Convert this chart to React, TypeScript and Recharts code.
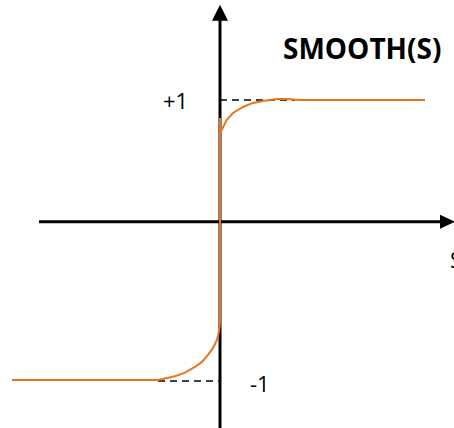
import React from "react";
import { LineChart, Line, XAxis, YAxis, ReferenceLine, ReferenceDot } from "recharts";

// S values (horizontal) and SMOOTH(S) values (vertical)
const S_VALUES = [
  -4.16, -1.24, -1.1, -0.9, -0.7, -0.5, -0.36, -0.24, -0.14, -0.08, -0.04, -0.01, 0,
  0, 0, 0.034, 0.134, 0.26, 0.46, 0.66, 0.86, 1.14, 1.34, 1.6, 4.1,
];
const SMOOTH_VALUES = [
  -1, -1, -0.989, -0.973, -0.948, -0.907, -0.871, -0.821, -0.771, -0.729, -0.686, -0.629, -0.586,
  0.871, 0.8, 0.786, 0.857, 0.907, 0.95, 0.979, 0.993, 1.007, 1.007, 1.0, 1.0,
];

const TITLE = "SMOOTH(S)";
const X_LABEL = "S";
const PLUS_ONE = "+1";
const MINUS_ONE = "-1";

// axis extents
const X_DOMAIN: [number, number] = [-4.4, 4.68];
const Y_DOMAIN: [number, number] = [-1.343, 1.714];
const H_AXIS_Y = 0.13;
const H_AXIS_FROM = -3.62;
const H_AXIS_TO = 4.4;
const V_AXIS_TOP = 1.57;

const data = S_VALUES.map((s, i) => ({ s, v: SMOOTH_VALUES[i] }));

const ORANGE = "#E8761E";
const FONT = "'Open Sans', sans-serif";

const UpArrow = (p: any) => (
  <path d={`M${p.cx},${p.cy} L${p.cx - 8},${p.cy + 16} L${p.cx + 8},${p.cy + 16} Z`} fill="#000" />
);
const RightArrow = (p: any) => (
  <path d={`M${p.cx},${p.cy} L${p.cx - 15},${p.cy - 7} L${p.cx - 15},${p.cy + 7} Z`} fill="#000" />
);
const makeText = (txt: string, dx: number, dy: number, size: number, weight: number, anchor: string = "start") =>
  (p: any) => (
    <text x={p.cx + dx} y={p.cy + dy} fontSize={size} fontWeight={weight} fontFamily={FONT} fill="#000" textAnchor={anchor} dominantBaseline="central">
      {txt}
    </text>
  );

export default function App() {
  return (
    <div style={{ position: "absolute", left: 0, top: 0, background: "#fff" }}>
      <LineChart width={454} height={428} data={data} margin={{ top: 0, right: 0, bottom: 0, left: 0 }}>
        <XAxis type="number" dataKey="s" domain={X_DOMAIN} hide allowDataOverflow />
        <YAxis type="number" domain={Y_DOMAIN} hide allowDataOverflow />
        <ReferenceLine segment={[{ x: 0, y: 1 }, { x: 1.5, y: 1 }]} stroke="#000" strokeWidth={1.5} strokeDasharray="7 5" />
        <ReferenceLine segment={[{ x: -1.24, y: -1.007 }, { x: 0, y: -1.007 }]} stroke="#000" strokeWidth={1.5} strokeDasharray="7 5" />
        <ReferenceLine segment={[{ x: H_AXIS_FROM, y: H_AXIS_Y }, { x: H_AXIS_TO, y: H_AXIS_Y }]} stroke="#000" strokeWidth={3} />
        <ReferenceLine segment={[{ x: 0, y: Y_DOMAIN[0] }, { x: 0, y: V_AXIS_TOP }]} stroke="#000" strokeWidth={3} />
        <ReferenceDot x={0} y={1.68} r={0} shape={UpArrow} ifOverflow="visible" />
        <ReferenceDot x={4.7} y={H_AXIS_Y} r={0} shape={RightArrow} ifOverflow="visible" />
        <ReferenceDot x={1.26} y={1.37} r={0} shape={makeText(TITLE, 0, 0, 28, 700)} ifOverflow="visible" />
        <ReferenceDot x={0} y={1} r={0} shape={makeText(PLUS_ONE, -57, 0, 22, 400)} ifOverflow="visible" />
        <ReferenceDot x={0} y={-1} r={0} shape={makeText(MINUS_ONE, 30, 3, 22, 400)} ifOverflow="visible" />
        <ReferenceDot x={4.6} y={H_AXIS_Y} r={0} shape={makeText(X_LABEL, 0, 37, 22, 400)} ifOverflow="visible" />
        <Line type="linear" dataKey="v" stroke={ORANGE} strokeWidth={2} dot={false} activeDot={false} isAnimationActive={false} />
      </LineChart>
    </div>
  );
}
